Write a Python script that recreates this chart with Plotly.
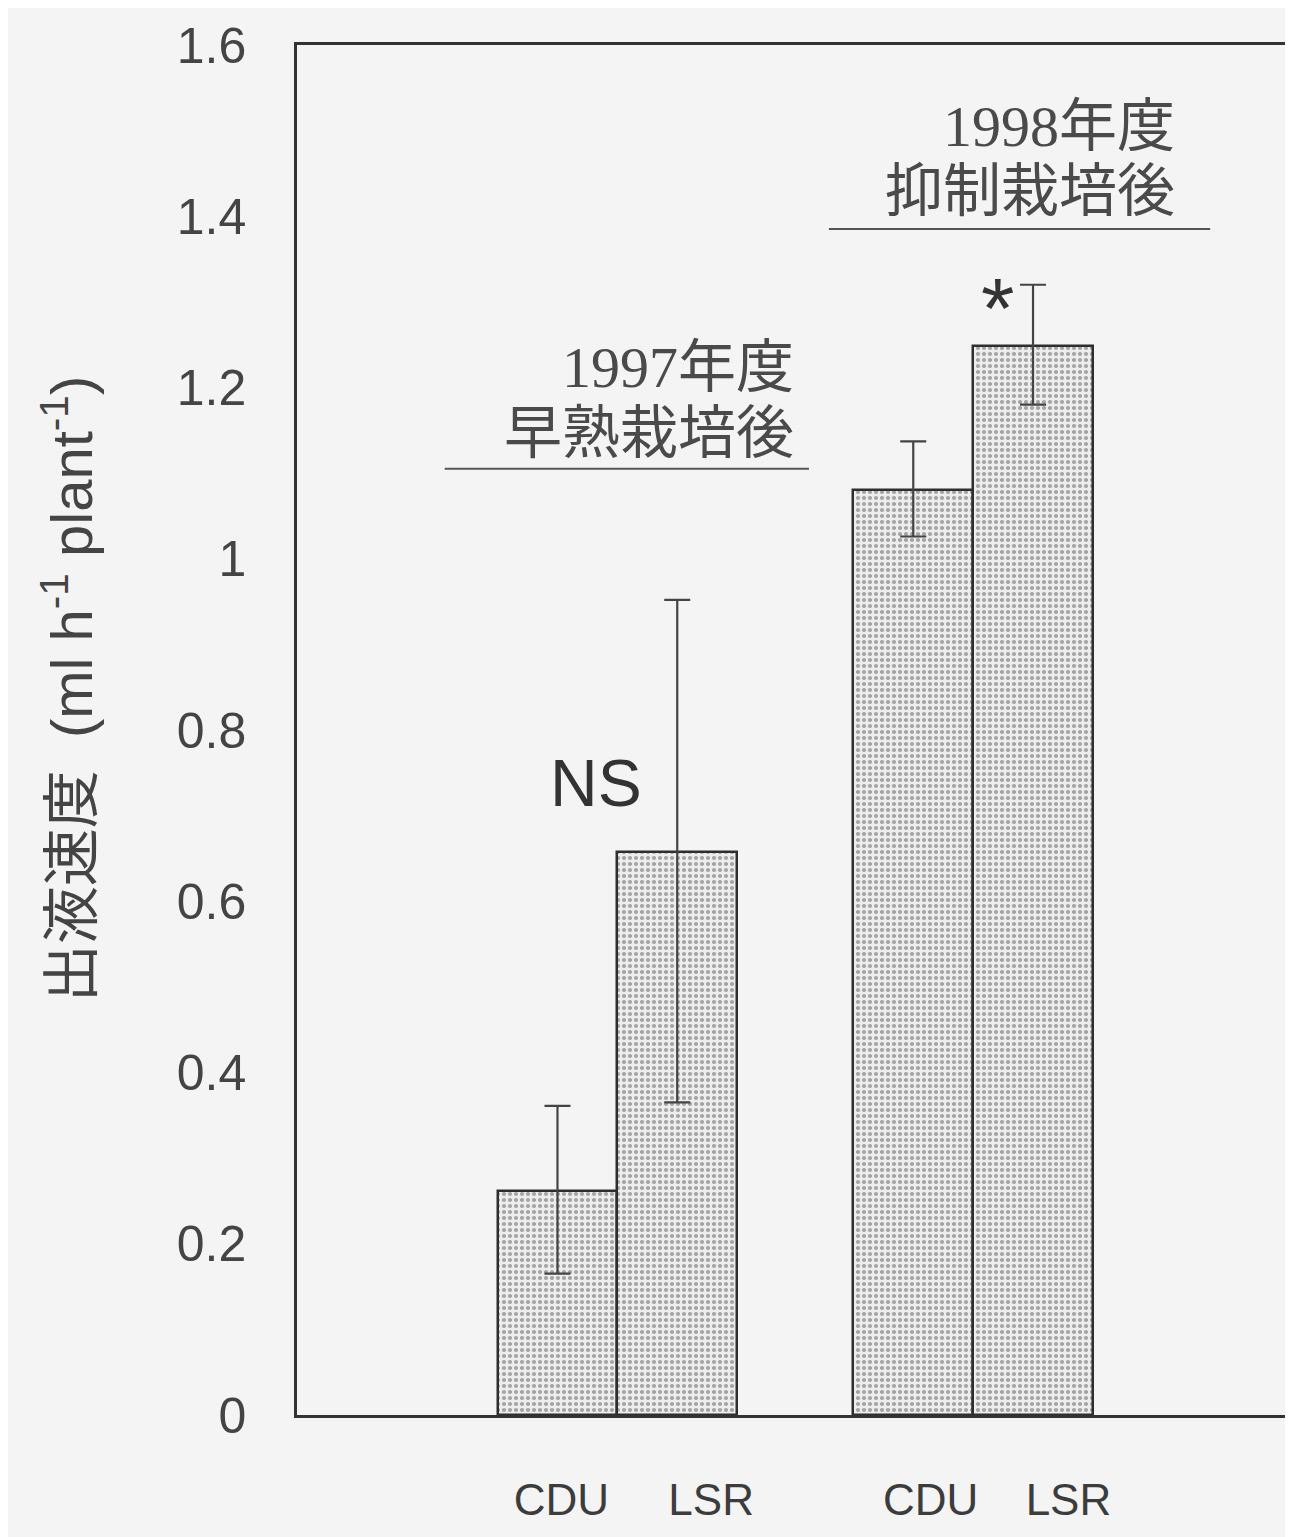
import plotly.graph_objects as go

# ---- data ----
categories = ["CDU", "LSR", "CDU", "LSR"]
seasons = ["1997", "1997", "1998", "1998"]
means = [0.262, 0.657, 1.080, 1.249]
upper = [0.361, 0.952, 1.137, 1.320]
lower = [0.165, 0.365, 1.026, 1.180]
ytick_vals = [0, 0.2, 0.4, 0.6, 0.8, 1.0, 1.2, 1.4, 1.6]
ytick_text = ["0", "0.2", "0.4", "0.6", "0.8", "1", "1.2", "1.4", "1.6"]
group_years = ["1997年度", "1998年度"]
group_stages = ["早熟栽培後", "抑制栽培後"]
sig_marks = ["NS", "*"]

# ---- layout helpers (positions, not data) ----
# the page body has an 8px margin, so the figure is offset by 8px
group_centers = [3.21, 6.775]
bar_w = 1.20
x_pos = []
for i, s in enumerate(seasons):
    g = 0 if s == "1997" else 1
    off = -bar_w / 2 if categories[i] == "CDU" else bar_w / 2
    x_pos.append(group_centers[g] + off)
label_pos = [2.65, 4.15, 6.35, 7.73]

err_plus = [u - m for u, m in zip(upper, means)]
err_minus = [m - l for m, l in zip(means, lower)]

ink = "#3c3c3c"
bg = "#f4f4f4"

fig = go.Figure()
fig.add_trace(go.Bar(
    x=x_pos, y=means, width=bar_w,
    marker=dict(
        color="#e8e8e8",
        line=dict(color="#2e2e2e", width=2.5),
        pattern=dict(shape=".", size=6, solidity=0.38, fgcolor="#5a5a5a", bgcolor="#ededed"),
    ),
    error_y=dict(type="data", symmetric=False, array=err_plus, arrayminus=err_minus,
                 color="#444444", thickness=2.2, width=13),
    showlegend=False,
))

fig.update_layout(
    width=1285, height=1529,
    margin=dict(l=289, r=0, t=37, b=122),
    paper_bgcolor=bg, plot_bgcolor=bg,
    font=dict(family="Liberation Sans, Arial, Noto Sans CJK JP", color=ink),
    xaxis=dict(range=[0, 9.98], showgrid=False, zeroline=False,
               showline=True, linecolor="#333333", linewidth=2.5, mirror=True,
               tickmode="array", tickvals=label_pos, ticktext=categories,
               ticks="", ticklabelstandoff=44,
               tickfont=dict(size=44, family="Liberation Sans, Arial", color=ink)),
    yaxis=dict(range=[0, 1.6], showgrid=False, zeroline=False,
               showline=True, linecolor="#333333", linewidth=2.5,
               tickmode="array", tickvals=ytick_vals, ticktext=ytick_text,
               ticks="", ticklabelstandoff=38,
               tickfont=dict(size=50, family="Liberation Sans, Arial", color="#444444")),
    bargap=0,
)

# y-axis title (centre at page x~62, y~685)
fig.add_annotation(
    xref="paper", yref="paper", x=-0.2305, y=0.530,
    text="出液速度  (ml h<sup>-1</sup> plant<sup>-1</sup>)",
    textangle=-90, showarrow=False, xanchor="center", yanchor="middle",
    font=dict(size=58, family="Liberation Sans, Noto Sans CJK JP", color="#444444"),
)

# group labels with underlines
label_right = [5.00, 8.82]
year_y = [1.2231, 1.5047]
stage_y = [1.1468, 1.4284]
line_span = [(1.48, 5.13), (5.33, 9.15)]
line_y = [1.105, 1.385]
for g in range(2):
    fig.add_annotation(
        x=label_right[g], y=year_y[g], xref="x", yref="y",
        text=group_years[g], showarrow=False, xanchor="right", yanchor="middle",
        font=dict(size=58, family="Liberation Serif, Noto Sans CJK JP", color="#4a4a4a"),
    )
    fig.add_annotation(
        x=label_right[g], y=stage_y[g], xref="x", yref="y",
        text=group_stages[g], showarrow=False, xanchor="right", yanchor="middle",
        font=dict(size=58, family="Liberation Serif, Noto Sans CJK JP", color="#4a4a4a"),
    )
    fig.add_shape(type="line", xref="x", yref="y",
                  x0=line_span[g][0], x1=line_span[g][1], y0=line_y[g], y1=line_y[g],
                  line=dict(color="#555555", width=2))

# significance marks
fig.add_annotation(x=3.0, y=0.738, xref="x", yref="y", text=sig_marks[0],
                   showarrow=False, font=dict(size=66, family="Liberation Sans, Arial", color="#333333"))
fig.add_annotation(x=7.02, y=1.293, xref="x", yref="y", text=sig_marks[1],
                   showarrow=False, font=dict(size=86, family="Liberation Sans, Arial", color="#333333"))

fig.write_html("out.html")
